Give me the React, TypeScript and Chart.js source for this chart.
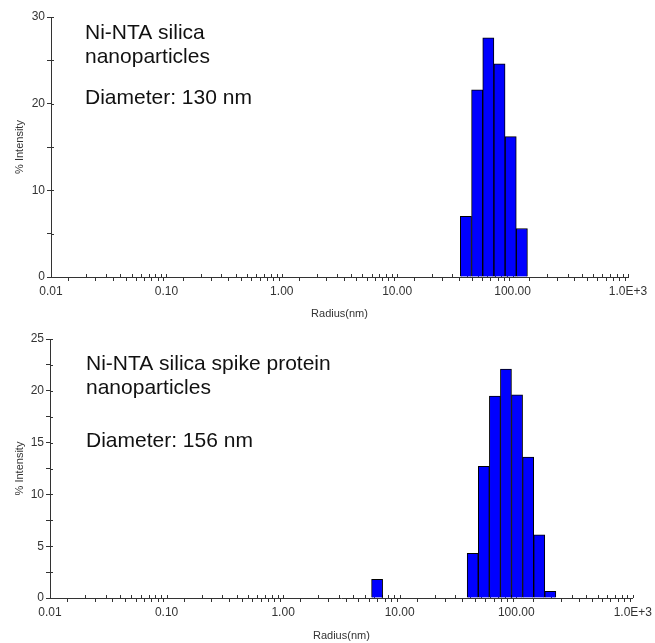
import React, { useEffect, useRef } from "react";
import { Chart, registerables } from "chart.js";

Chart.register(...registerables);

// ---- shared axis data ----
const xDecades = [0.01, 0.1, 1, 10, 100, 1000];
const xDecadeLabels = ["0.01", "0.10", "1.00", "10.00", "100.00", "1.0E+3"];
const xMinorMultipliers = [1, 2, 3, 4, 5, 6, 7, 8, 9];
const xTitle = "Radius(nm)";
const yTitle = "% Intensity";

// ---- top panel ----
const topRadius = [39.4, 49.3, 61.6, 77.0, 96.3, 120.3];
const topIntensity = [7.0, 21.6, 27.6, 24.6, 16.2, 5.6];
const topYMax = 30;
const topYStep = 5;
const topYLabelStep = 10;
const topLines = ["Ni-NTA silica", "nanoparticles", "Diameter: 130 nm"];

// ---- bottom panel ----
const bottomRadius = [6.4, 42.3, 52.7, 65.6, 81.6, 101.6, 126.5, 157.5, 196.0];
const bottomIntensity = [1.8, 4.3, 12.7, 19.5, 22.1, 19.6, 13.6, 6.1, 0.64];
const bottomYMax = 25;
const bottomYStep = 2.5;
const bottomYLabelStep = 5;
const bottomLines = ["Ni-NTA silica spike protein", "nanoparticles", "Diameter: 156 nm"];

const FONT = "'Liberation Sans', Arial, Helvetica, sans-serif";
const AXIS_COLOR = "#333333";

const allXTicks: number[] = [];
xDecades.forEach((d, i) => {
  if (i === xDecades.length - 1) {
    allXTicks.push(d);
  } else {
    xMinorMultipliers.forEach((m) => allXTicks.push(+(d * m).toPrecision(6)));
  }
});

type PanelProps = {
  radius: number[];
  intensity: number[];
  yMax: number;
  yStep: number;
  yLabelStep: number;
  lines: string[];
  lineOffsets: number[];
  textDx: number;
  height: number;
  pad: { left: number; right: number; top: number };
  yWidth: number;
  xHeight: number;
  xTitlePadBottom: number;
};

function Panel(props: PanelProps) {
  const ref = useRef<HTMLCanvasElement | null>(null);
  useEffect(() => {
    if (!ref.current) return;
    const crossTicks = {
      id: "crossTicks",
      beforeDatasetsDraw(chart: any) {
        const { ctx, chartArea } = chart;
        const xs = chart.scales.x;
        const ys = chart.scales.y;
        ctx.save();
        ctx.strokeStyle = AXIS_COLOR;
        ctx.lineWidth = 1;
        ctx.beginPath();
        xs.ticks.forEach((_t: any, i: number) => {
          const px = Math.round(xs.getPixelForTick(i)) + 0.5;
          ctx.moveTo(px, chartArea.bottom);
          ctx.lineTo(px, chartArea.bottom - 3);
        });
        ys.ticks.forEach((_t: any, i: number) => {
          const py = Math.round(ys.getPixelForTick(i)) + 0.5;
          ctx.moveTo(chartArea.left, py);
          ctx.lineTo(chartArea.left + 3, py);
        });
        ctx.stroke();
        ctx.restore();
      },
    };
    const annot = {
      id: "annot",
      afterDraw(chart: any) {
        const { ctx, chartArea } = chart;
        ctx.save();
        ctx.fillStyle = "#111111";
        ctx.font = `21px ${FONT}`;
        ctx.textAlign = "left";
        ctx.textBaseline = "alphabetic";
        props.lines.forEach((s, i) => {
          ctx.fillText(s, chartArea.left + props.textDx, chartArea.top + props.lineOffsets[i]);
        });
        ctx.restore();
      },
    };
    const chart = new Chart(ref.current, {
      type: "bar",
      data: {
        datasets: [
          {
            data: props.radius.map((r, i) => ({ x: r, y: props.intensity[i] })),
            xAxisID: "xb",
            yAxisID: "y",
            backgroundColor: "#0000ff",
            borderColor: "#000000",
            borderWidth: 1,
            barPercentage: 1,
            categoryPercentage: 1,
          } as any,
        ],
      },
      options: {
        animation: false,
        responsive: false,
        maintainAspectRatio: false,
        layout: { padding: { left: props.pad.left, right: props.pad.right, top: props.pad.top, bottom: 0 } },
        plugins: { legend: { display: false }, tooltip: { enabled: false } },
        scales: {
          x: {
            type: "logarithmic",
            min: 0.01,
            max: 1000,
            afterBuildTicks: (s: any) => {
              s.ticks = allXTicks.map((v) => ({ value: v }));
            },
            afterFit: (s: any) => {
              s.height = props.xHeight;
            },
            grid: { drawOnChartArea: false, tickLength: 4, color: AXIS_COLOR, tickColor: AXIS_COLOR },
            border: { color: AXIS_COLOR, width: 1 },
            ticks: {
              autoSkip: false,
              maxRotation: 0,
              minRotation: 0,
              padding: 3,
              color: AXIS_COLOR,
              font: { family: FONT, size: 12 },
              callback: (value: any) => {
                const v = Number(value);
                const idx = xDecades.findIndex((d) => Math.abs(d - v) / d < 1e-6);
                return idx >= 0 ? xDecadeLabels[idx] : "";
              },
            },
            title: {
              display: true,
              text: xTitle,
              color: AXIS_COLOR,
              font: { family: FONT, size: 11 },
              padding: { top: 0, bottom: props.xTitlePadBottom },
            },
          },
          xb: {
            type: "logarithmic",
            axis: "x",
            position: "bottom",
            display: false,
            min: 0.01,
            max: 1000,
            afterBuildTicks: (s: any) => {
              s.ticks = xDecades.map((v) => ({ value: v }));
            },
          } as any,
          y: {
            type: "linear",
            min: 0,
            max: props.yMax,
            afterFit: (s: any) => {
              s.width = props.yWidth;
            },
            grid: { drawOnChartArea: false, tickLength: 4, color: AXIS_COLOR, tickColor: AXIS_COLOR },
            border: { color: AXIS_COLOR, width: 1 },
            ticks: {
              stepSize: props.yStep,
              padding: 2,
              color: AXIS_COLOR,
              font: { family: FONT, size: 12 },
              callback: (value: any) => {
                const v = Number(value);
                return Math.abs(v % props.yLabelStep) < 1e-9 ? String(v) : "";
              },
            },
            title: {
              display: true,
              text: yTitle,
              color: AXIS_COLOR,
              font: { family: FONT, size: 11 },
              padding: { top: 13, bottom: 0 },
            },
          },
        },
      } as any,
      plugins: [crossTicks, annot],
    });
    return () => chart.destroy();
  }, []);
  return (
    <canvas ref={ref} width={655} height={props.height} style={{ display: "block", width: 655, height: props.height }} />
  );
}

export default function App() {
  return (
    <div style={{ position: "absolute", left: 0, top: 0, width: 655, height: 643, background: "#ffffff" }}>
      <Panel
        radius={topRadius}
        intensity={topIntensity}
        yMax={topYMax}
        yStep={topYStep}
        yLabelStep={topYLabelStep}
        lines={topLines}
        lineOffsets={[22, 46, 87]}
        textDx={34}
        height={323}
        pad={{ left: 0, right: 27, top: 17 }}
        yWidth={51}
        xHeight={46}
        xTitlePadBottom={2}
      />
      <Panel
        radius={bottomRadius}
        intensity={bottomIntensity}
        yMax={bottomYMax}
        yStep={bottomYStep}
        yLabelStep={bottomYLabelStep}
        lines={bottomLines}
        lineOffsets={[31, 55, 108]}
        textDx={36}
        height={320}
        pad={{ left: 0, right: 20, top: 16 }}
        yWidth={50}
        xHeight={45}
        xTitlePadBottom={0}
      />
    </div>
  );
}
